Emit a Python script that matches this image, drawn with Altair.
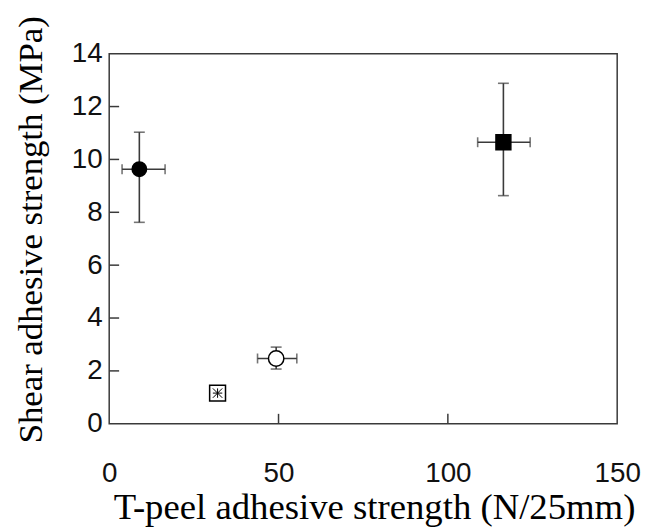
import altair as alt
import pandas as pd

groups = ["A", "B", "C", "D"]
peel = [8.9, 116.4, 49.3, 32.0]
peel_lo = [3.8, 108.8, 43.8, 31.0]
peel_hi = [16.5, 124.3, 55.4, 33.2]
shear = [9.63, 10.65, 2.47, 1.16]
shear_lo = [7.62, 8.63, 2.07, 0.98]
shear_hi = [11.03, 12.88, 2.90, 1.34]
marker_shapes = ["circle", "square", "circle", "square"]
marker_fills = ["black", "black", "white", "white"]
marker_sizes = [210, 256, 196, 110]

x_labels = [0, 50, 100, 150]
y_labels = [0, 2, 4, 6, 8, 10, 12, 14]
x_inner_ticks = [50, 100]
y_inner_ticks = [2, 4, 6, 8, 10, 12]

W, H = 512, 373
LINE = "#3a3a3a"

df = pd.DataFrame({
    "group": groups, "peel": peel, "peel_lo": peel_lo, "peel_hi": peel_hi,
    "shear": shear, "shear_lo": shear_lo, "shear_hi": shear_hi,
})
vcaps = pd.DataFrame({"peel": peel + peel, "shear": shear_lo + shear_hi})
hcaps = pd.DataFrame({"peel": peel_lo + peel_hi, "shear": shear + shear})

xscale = alt.Scale(domain=[0, 150], nice=False, zero=False)
yscale = alt.Scale(domain=[0, 14], nice=False, zero=False)

xaxis = alt.Axis(
    values=x_labels, grid=False, domain=False, ticks=False, tickSize=0,
    labelFont="Liberation Sans", labelFontSize=28, labelColor="#111",
    labelPadding=36, labelFlush=False, labelOverlap=False,
    title="T-peel adhesive strength (N/25mm)", titleFont="Liberation Serif",
    titleFontSize=37, titleFontWeight="normal", titleColor="black",
    titleX=267, titleY=95, titleAlign="center", titleBaseline="alphabetic",
)
yaxis = alt.Axis(
    values=y_labels, grid=False, domain=False, ticks=False, tickSize=0,
    labelFont="Liberation Sans", labelFontSize=28, labelColor="#111",
    labelPadding=7, labelFlush=False, labelOverlap=False,
    title="Shear adhesive strength (MPa)", titleFont="Liberation Serif",
    titleFontSize=35, titleFontWeight="normal", titleColor="black",
    titleX=-79, titleY=177, titleAlign="center", titleBaseline="middle", titleAngle=270,
)


def X(field):
    return alt.X(field, type="quantitative", scale=xscale, axis=xaxis)


def Y(field):
    return alt.Y(field, type="quantitative", scale=yscale, axis=yaxis)


base = alt.Chart(df)

vbars = base.mark_rule(color=LINE, strokeWidth=1.6).encode(
    x=X("peel"), y=Y("shear_lo"), y2="shear_hi:Q",
)
hbars = base.mark_rule(color=LINE, strokeWidth=1.6).encode(
    x=X("peel_lo"), x2="peel_hi:Q", y=Y("shear"),
)
vcap = alt.Chart(vcaps).mark_tick(orient="horizontal", color=LINE, thickness=1.6, size=11).encode(
    x=X("peel"), y=Y("shear"),
)
hcap = alt.Chart(hcaps).mark_tick(orient="vertical", color=LINE, thickness=1.6, size=10).encode(
    x=X("peel"), y=Y("shear"),
)
points = base.mark_point(filled=True, stroke="black", strokeWidth=1.5, opacity=1).encode(
    x=X("peel"), y=Y("shear"),
    shape=alt.Shape("group:N", scale=alt.Scale(domain=groups, range=marker_shapes), legend=None),
    fill=alt.Fill("group:N", scale=alt.Scale(domain=groups, range=marker_fills), legend=None),
    size=alt.Size("group:N", scale=alt.Scale(domain=groups, range=marker_sizes), legend=None),
)
star = base.transform_filter(alt.datum.group == "D").mark_point(
    shape="M-1,-1L1,1M1,-1L-1,1M0,-1L0,1M-1,0L1,0", filled=False,
    stroke="black", strokeWidth=1, size=90, opacity=1,
).encode(x=X("peel"), y=Y("shear"))

yt = alt.Chart(pd.DataFrame({"v": y_inner_ticks})).mark_rule(color=LINE, strokeWidth=1.5).encode(
    y=Y("v"), x=alt.value(0), x2=alt.value(10),
)
xt = alt.Chart(pd.DataFrame({"v": x_inner_ticks})).mark_rule(color=LINE, strokeWidth=1.5).encode(
    x=X("v"), y=alt.value(H), y2=alt.value(H - 10),
)

chart = alt.layer(vbars, hbars, vcap, hcap, yt, xt, points, star).properties(
    width=W, height=H, background="white",
    padding={"top": 5, "left": 5, "right": 0, "bottom": 0},
).configure_view(stroke=LINE, strokeWidth=1.5)

chart.save("out.html", embed_options={"renderer": "svg", "actions": False})
